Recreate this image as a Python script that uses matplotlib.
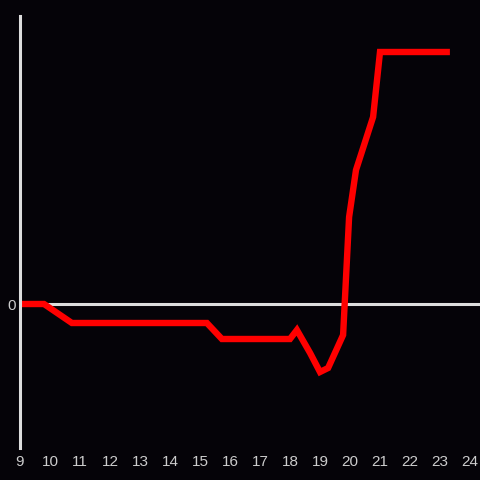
import matplotlib
matplotlib.use("Agg")
import matplotlib.pyplot as plt

# hour of day vs. value (arbitrary units)
hours = [9.0, 9.8, 10.73, 15.23, 15.73, 18.0, 18.23, 18.67, 19.0, 19.27,
         19.77, 19.97, 20.2, 20.77, 21.0, 23.33]
values = [0, 0, -19, -19, -35, -35, -26, -49, -68, -64,
          -31, 87, 134, 187, 252, 252]
xticks = list(range(9, 25))

bg = "#050308"
fg = "#dddddd"

fig = plt.figure(figsize=(4.8, 4.8), dpi=100, facecolor=bg)
ax = fig.add_axes([20 / 480, 32 / 480, 460 / 480, 432 / 480], facecolor=bg)

ax.axhline(0, color=fg, lw=2.2, zorder=1)
ax.plot(hours, values, color="#ff0000", lw=4.6, solid_joinstyle="miter",
        solid_capstyle="butt", zorder=2)

ax.set_xlim(9, 9 + 460 / 30)
ax.set_ylim(-144, 288)
ax.set_xticks(xticks)
ax.set_yticks([0])

for side in ["top", "right", "bottom"]:
    ax.spines[side].set_visible(False)
ax.spines["left"].set_color(fg)
ax.spines["left"].set_linewidth(2.2)

ax.tick_params(length=0, colors="#cccccc", labelsize=11)
ax.tick_params(axis="x", pad=5)
ax.tick_params(axis="y", pad=3)
for lab in ax.get_xticklabels() + ax.get_yticklabels():
    lab.set_fontfamily("Liberation Sans")

fig.savefig("out.png", facecolor=bg)
